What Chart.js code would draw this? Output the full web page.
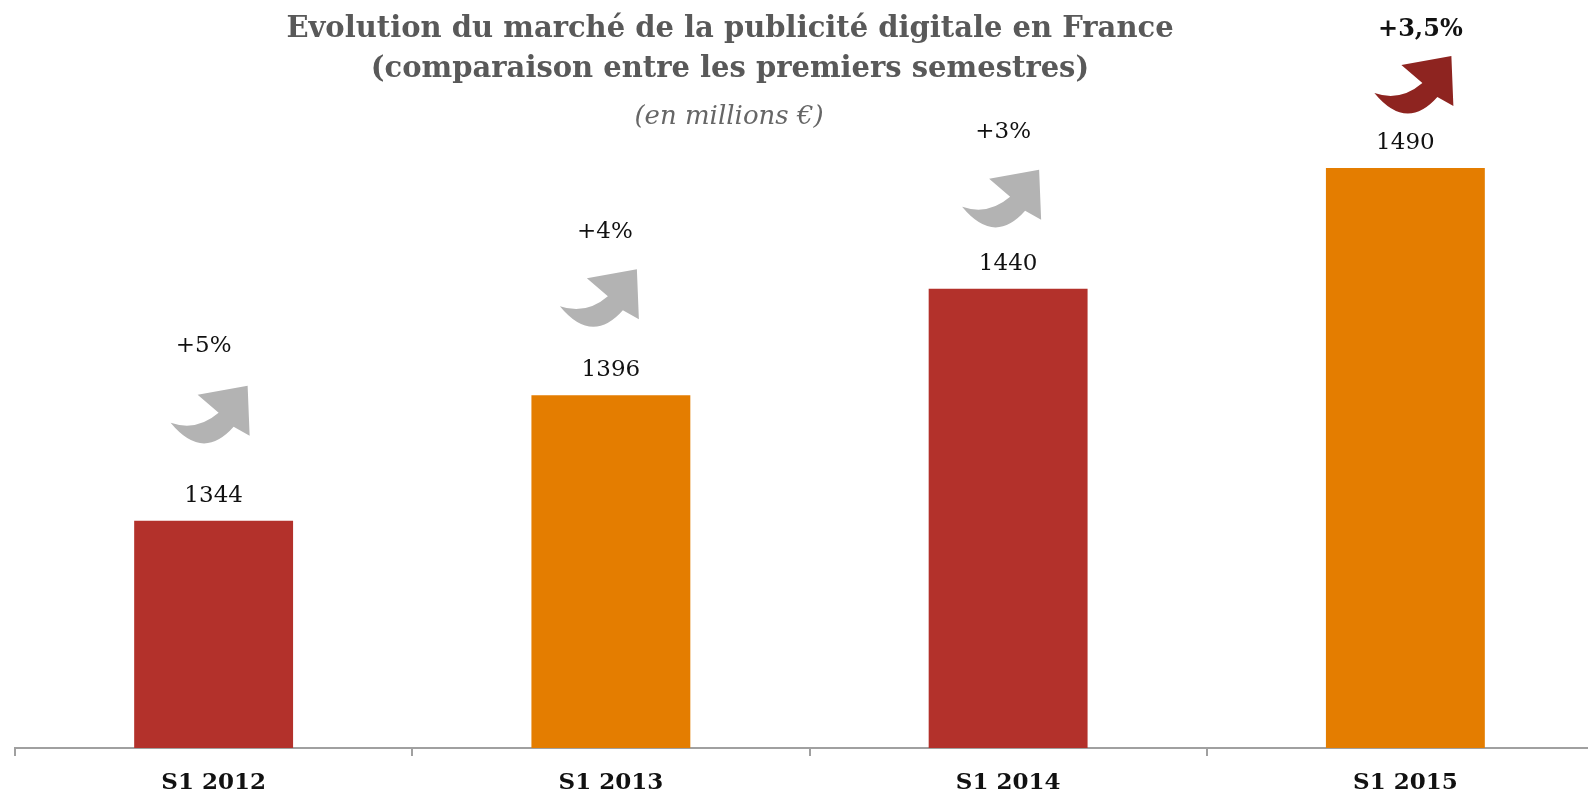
<!DOCTYPE html>
<html lang="fr">
<head>
<meta charset="utf-8">
<title>Evolution du marché de la publicité digitale en France</title>
<script src="https://cdn.jsdelivr.net/npm/chart.js@4"></script>
<style>
  html, body { margin: 0; padding: 0; background: #fff; overflow: hidden; }
  /* the last category runs a little past the right edge in the original */
  #wrap { position: absolute; left: 0; top: 0; width: 1604px; height: 799px; }
</style>
</head>
<body>
<div id="wrap"><canvas id="chartCanvas"></canvas></div>
<script>
// data
const periods = ['S1 2012', 'S1 2013', 'S1 2014', 'S1 2015'];
const spend = [1344, 1396, 1440, 1490];
const growth = ['+5%', '+4%', '+3%', '+3,5%'];

const barColors = ['#b3312b', '#e47d00', '#b3312b', '#e47d00'];
const arrowColors = ['#b3b3b3', '#b3b3b3', '#b3b3b3', '#8e2420'];

// where each growth arrow / label sits relative to its bar (px)
const arrowDx = [-43, -51, -46, -31];
const arrowLift = [78, 69, 62, 55];
const growthDx = [-10, -6, -5, 15];
const growthGap = [40, 37, 38, 26];

const SERIF = '"DejaVu Serif", Georgia, serif';
const ARROW_H = 57;

// curved "up" arrow, drawn inside an 80 x 57 box
function drawArrow(ctx, x, y, color) {
  ctx.save();
  ctx.translate(x, y);
  ctx.fillStyle = color;
  ctx.beginPath();
  ctx.moveTo(0, 37);
  ctx.quadraticCurveTo(26, 46, 48, 27);
  ctx.lineTo(27, 9);
  ctx.lineTo(77, 0);
  ctx.lineTo(79, 50);
  ctx.lineTo(63, 41);
  ctx.quadraticCurveTo(32, 76, 0, 37);
  ctx.closePath();
  ctx.fill();
  ctx.restore();
}

const labelsPlugin = {
  id: 'labels',
  afterDatasetsDraw(chart) {
    const ctx = chart.ctx;
    const bars = chart.getDatasetMeta(0).data;
    ctx.save();
    ctx.textAlign = 'center';
    ctx.textBaseline = 'middle';
    bars.forEach((bar, i) => {
      // value above the bar
      ctx.fillStyle = '#111';
      ctx.font = '23px ' + SERIF;
      ctx.fillText(String(spend[i]), bar.x, bar.y - 25);

      // growth arrow + percentage
      const top = bar.y - arrowLift[i] - ARROW_H;
      drawArrow(ctx, bar.x + arrowDx[i], top, arrowColors[i]);
      const last = i === bars.length - 1;
      ctx.fillStyle = '#111';
      ctx.font = (last ? 'bold 24px ' : '23px ') + SERIF;
      ctx.fillText(growth[i], bar.x + growthDx[i], top - growthGap[i]);
    });
    ctx.restore();
  },
  afterDraw(chart) {
    const ctx = chart.ctx;
    ctx.save();
    ctx.textAlign = 'center';
    ctx.textBaseline = 'middle';
    ctx.fillStyle = '#595959';
    ctx.font = 'bold 29px ' + SERIF;
    ctx.fillText('Evolution du marché de la publicité digitale en France', 730, 29);
    ctx.fillText('(comparaison entre les premiers semestres)', 730, 69);
    ctx.font = 'italic 26px ' + SERIF;
    ctx.fillStyle = '#666';
    ctx.fillText('(en millions €)', 729, 117);
    ctx.restore();
  }
};

const ctx = document.getElementById('chartCanvas').getContext('2d');
new Chart(ctx, {
  type: 'bar',
  data: {
    labels: periods,
    datasets: [{
      data: spend,
      backgroundColor: barColors,
      borderWidth: 0,
      barPercentage: 0.4,
      categoryPercentage: 1
    }]
  },
  options: {
    responsive: true,
    maintainAspectRatio: false,
    animation: false,
    layout: { padding: { left: 15, right: 0, top: 23, bottom: 0 } },
    plugins: {
      legend: { display: false },
      tooltip: { enabled: false },
      title: { display: false }
    },
    scales: {
      y: {
        display: false,
        min: 1250,
        max: 1550
      },
      x: {
        afterFit: (scale) => { scale.height = 51; },
        border: { color: '#a0a0a0', width: 2 },
        grid: {
          offset: true,
          drawOnChartArea: false,
          drawTicks: true,
          tickLength: 8,
          color: '#a0a0a0',
          lineWidth: 2
        },
        ticks: {
          color: '#111',
          padding: 13,
          font: { family: SERIF, size: 23, weight: 'bold' }
        }
      }
    }
  },
  plugins: [labelsPlugin]
});
</script>
</body>
</html>
